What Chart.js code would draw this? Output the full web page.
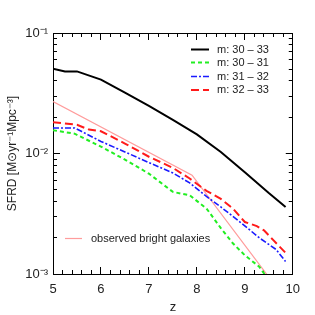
<!DOCTYPE html>
<html>
<head>
<meta charset="utf-8">
<script src="https://cdn.jsdelivr.net/npm/chart.js@4"></script>
<style>
  html, body { margin: 0; padding: 0; background: #fff; }
  #wrap { width: 315px; height: 315px; }
</style>
</head>
<body>
<div id="wrap"><canvas id="myChart" width="315" height="315"></canvas></div>
<script>
// Data (z, SFRD)
const zTicks = [5, 6, 7, 8, 9, 10];
const zMinorTicks = [5.2, 5.4, 5.6, 5.8, 6.2, 6.4, 6.6, 6.8, 7.2, 7.4, 7.6, 7.8, 8.2, 8.4, 8.6, 8.8, 9.2, 9.4, 9.6, 9.8];
const sfrdTicks = [0.001, 0.01, 0.1];
const sfrdMinorTicks = [0.002, 0.003, 0.004, 0.005, 0.006, 0.007, 0.008, 0.009,
                        0.02, 0.03, 0.04, 0.05, 0.06, 0.07, 0.08, 0.09];

const zAll = [5, 5.25, 5.5, 6, 6.5, 7, 7.5, 8, 8.5, 9, 9.5, 9.85];
const sfrdAll = [0.0506, 0.048, 0.048, 0.041, 0.032, 0.0248, 0.019, 0.0144, 0.0103, 0.0070, 0.0047, 0.0036];

const zM3031 = [5, 5.45, 6, 6.5, 7, 7.5, 7.85, 8.2, 8.5, 8.75, 9, 9.3, 9.45, 9.6];
const sfrdM3031 = [0.0156, 0.0146, 0.0114, 0.0089, 0.0068, 0.0048, 0.0045, 0.0035, 0.0024, 0.0018, 0.00143, 0.00115, 0.00095, 0.0008];

const zM3132 = [5, 5.45, 5.6, 6, 6.5, 7, 7.5, 7.85, 8.2, 8.5, 8.9, 9.3, 9.65, 9.85];
const sfrdM3132 = [0.0163, 0.0163, 0.0152, 0.0126, 0.0103, 0.0084, 0.0069, 0.0057, 0.0044, 0.0036, 0.0027, 0.0020, 0.0016, 0.00127];

const zM3233 = [5, 5.5, 5.75, 6, 6.5, 7, 7.5, 7.85, 8.2, 8.5, 8.75, 9, 9.25, 9.4, 9.6, 9.85];
const sfrdM3233 = [0.0182, 0.0173, 0.0158, 0.0153, 0.0121, 0.0094, 0.0076, 0.0062, 0.0049, 0.0042, 0.0035, 0.0027, 0.0025, 0.0023, 0.0019, 0.0015];

const zObs = [5, 7.9, 9.7];
const sfrdObs = [0.027, 0.0066, 0.00074];

const seriesLabels = ['m: 30 \u2013 33', 'm: 30 \u2013 31', 'm: 31 \u2013 32', 'm: 32 \u2013 33', 'observed bright galaxies'];

const FONT = '"Liberation Sans", Arial, sans-serif';

function pts(xs, ys) {
    return xs.map((x, i) => ({ x: x, y: ys[i] }));
}

const sup = { '-': '\u207B', '1': '\u00B9', '2': '\u00B2', '3': '\u00B3' };
function powLabel(v) {
    const e = Math.round(Math.log10(v));
    return '10' + String(e).split('').map(c => sup[c] || c).join('');
}

// Extra axes that only carry inward tick marks (negative tickLength)
function tickAxis(axis, position, type, min, max, values, len, weight, border) {
    return {
        axis: axis,
        type: type,
        position: position,
        min: min, max: max,
        weight: weight,
        grid: { display: true, drawOnChartArea: false, drawTicks: true, tickLength: -len,
                color: '#000', lineWidth: 1 },
        border: { display: border, color: '#000', width: 1 },
        ticks: { display: false },
        afterBuildTicks: s => { s.ticks = values.map(v => ({ value: v })); },
        afterFit: s => { if (axis === 'x') s.height = 0; else s.width = 0; }
    };
}

// In-plot legends
const legendPlugin = {
    id: 'plotLegend',
    afterDraw(chart) {
        const ctx = chart.ctx;
        ctx.save();
        ctx.font = '11px ' + FONT;
        ctx.fillStyle = '#222';
        ctx.textBaseline = 'middle';
        const ds = chart.data.datasets;
        const rows = [49.5, 62.5, 76.5, 90];
        for (let i = 0; i < 4; i++) {
            const d = ds[i];
            ctx.beginPath();
            ctx.strokeStyle = d.borderColor;
            ctx.lineWidth = d.borderWidth;
            ctx.setLineDash(d.borderDash || []);
            ctx.moveTo(191, rows[i]);
            ctx.lineTo(209, rows[i]);
            ctx.stroke();
            ctx.setLineDash([]);
            ctx.fillText(d.label, 217, rows[i]);
        }
        const o = ds[4];
        ctx.beginPath();
        ctx.strokeStyle = o.borderColor;
        ctx.lineWidth = o.borderWidth;
        ctx.moveTo(65, 238.5);
        ctx.lineTo(82, 238.5);
        ctx.stroke();
        ctx.fillText(o.label, 91, 238.5);
        ctx.restore();
    }
};

const ctx = document.getElementById('myChart').getContext('2d');
const chart = new Chart(ctx, {
    type: 'line',
    data: {
        datasets: [
            { label: seriesLabels[0], data: pts(zAll, sfrdAll), borderColor: '#000000', borderWidth: 2 },
            { label: seriesLabels[1], data: pts(zM3031, sfrdM3031), borderColor: '#22ee22', borderWidth: 2, borderDash: [4, 3] },
            { label: seriesLabels[2], data: pts(zM3132, sfrdM3132), borderColor: '#1a1aff', borderWidth: 1.6, borderDash: [6, 2, 2, 2] },
            { label: seriesLabels[3], data: pts(zM3233, sfrdM3233), borderColor: '#ff1a1a', borderWidth: 2, borderDash: [8, 4] },
            { label: seriesLabels[4], data: pts(zObs, sfrdObs), borderColor: '#ff9c9c', borderWidth: 1.2 }
        ]
    },
    plugins: [legendPlugin],
    options: {
        responsive: false,
        animation: false,
        devicePixelRatio: 1,
        layout: { padding: { top: 33, right: 21, left: 5, bottom: 0 } },
        elements: { point: { radius: 0 }, line: { tension: 0, fill: false } },
        plugins: { legend: { display: false }, tooltip: { enabled: false } },
        scales: {
            x: {
                type: 'linear',
                position: 'bottom',
                min: 5, max: 10,
                weight: 1,
                grid: { display: true, drawOnChartArea: false, drawTicks: true, tickLength: -7,
                        color: '#000', lineWidth: 1 },
                border: { display: true, color: '#000', width: 1 },
                afterBuildTicks: s => { s.ticks = zTicks.map(v => ({ value: v })); },
                ticks: { color: '#222', font: { family: FONT, size: 13 }, padding: 15,
                         maxRotation: 0, callback: v => String(v) },
                title: { display: true, text: 'z', color: '#222', font: { family: FONT, size: 13 }, padding: { top: 2, bottom: 0 } },
                afterFit: s => { s.height = 41; }
            },
            y: {
                type: 'logarithmic',
                position: 'left',
                min: 0.001, max: 0.1,
                weight: 1,
                grid: { display: true, drawOnChartArea: false, drawTicks: true, tickLength: -7,
                        color: '#000', lineWidth: 1 },
                border: { display: true, color: '#000', width: 1 },
                afterBuildTicks: s => { s.ticks = sfrdTicks.map(v => ({ value: v })); },
                ticks: { color: '#222', font: { family: FONT, size: 13 }, padding: 12,
                         callback: v => powLabel(v) },
                title: { display: true, text: 'SFRD [M\u2299yr\u207B\u00B9Mpc\u207B\u00B3]', color: '#222',
                         font: { family: FONT, size: 12 }, padding: { top: 0, bottom: 0 } },
                afterFit: s => { s.width = 48; }
            },
            xMinor: tickAxis('x', 'bottom', 'linear', 5, 10, zMinorTicks, 4, 0, false),
            xTop: tickAxis('x', 'top', 'linear', 5, 10, zTicks, 7, 1, true),
            xTopMinor: tickAxis('x', 'top', 'linear', 5, 10, zMinorTicks, 4, 0, false),
            yMinor: tickAxis('y', 'left', 'logarithmic', 0.001, 0.1, sfrdMinorTicks, 4, 0, false),
            yRight: tickAxis('y', 'right', 'logarithmic', 0.001, 0.1, sfrdTicks, 7, 1, true),
            yRightMinor: tickAxis('y', 'right', 'logarithmic', 0.001, 0.1, sfrdMinorTicks, 4, 0, false)
        }
    }
});
</script>
</body>
</html>
